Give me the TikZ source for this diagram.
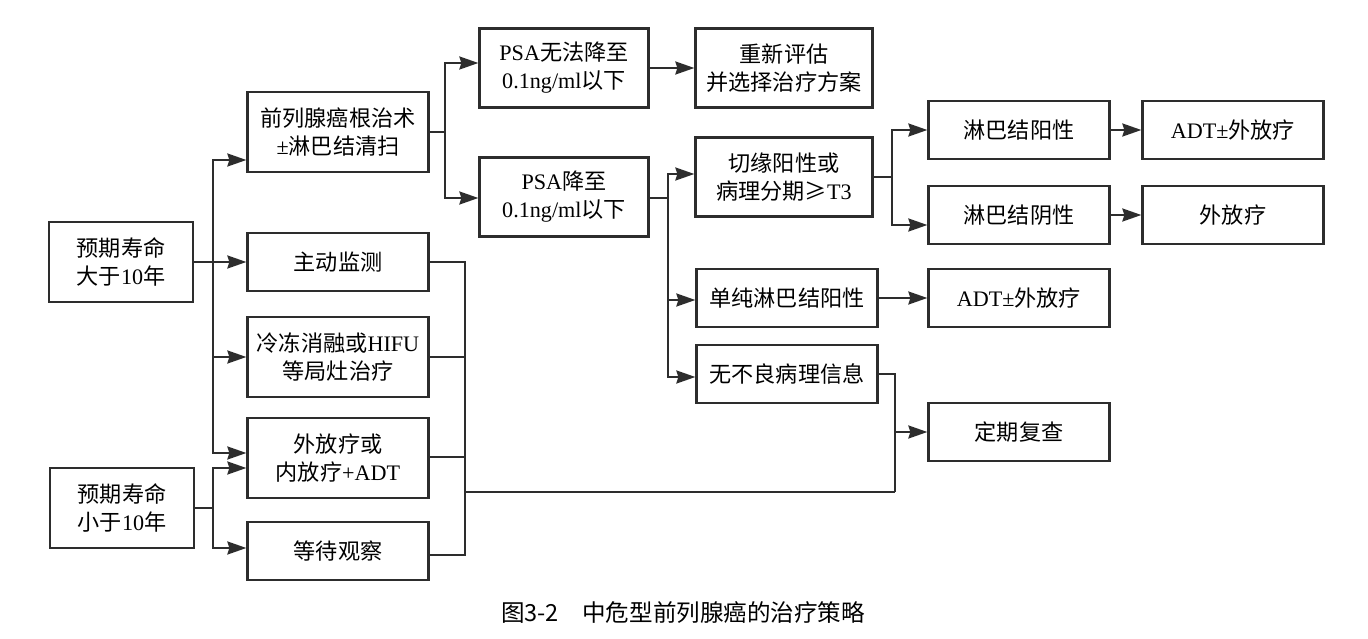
\documentclass[tikz,border=0pt]{standalone}
\usepackage{fontspec}
\setmainfont{Liberation Serif}
\newfontfamily\cjk{Noto Sans CJK SC}
\newcommand{\lat}[1]{{\rmfamily #1}}
\usetikzlibrary{arrows.meta, positioning}
\definecolor{linecol}{RGB}{45,45,45}

\begin{document}
\begin{tikzpicture}[
    x=0.2mm, y=-0.2mm,
    box/.style    = {rectangle, draw=linecol, line width=0.45mm,
                     minimum width=3.62cm, minimum height=1.15cm,
                     align=center, inner sep=2pt,
                     font=\cjk\fontsize{12.6pt}{16pt}\selectfont},
    tall/.style   = {minimum height=1.6cm},
    life/.style   = {minimum width=2.88cm, minimum height=1.6cm},
    psa/.style    = {minimum width=3.38cm, minimum height=1.58cm},
    mid/.style    = {minimum width=3.54cm, minimum height=1.58cm},
    line/.style   = {line width=0.45mm, color=linecol},
    arrow/.style  = {line, -{Stealth[length=3.8mm, width=2.6mm, inset=0.4mm]}},
]
\useasboundingbox (0,0) rectangle (1368,639);

% ── Life expectancy ─────────────────────────────────────────────
\node[box, life] (e1) at (121,262) {预期寿命\\大于\lat{10}年};
\node[box, life] (e2) at (122,508) {预期寿命\\小于\lat{10}年};

% ── Primary treatment ───────────────────────────────────────────
\node[box, tall] (rp)   at (338,132) {前列腺癌根治术\\\lat{±}淋巴结清扫};
\node[box]       (as)   at (338,262) {主动监测};
\node[box, tall] (cryo) at (338,357) {冷冻消融或\lat{HIFU}\\等局灶治疗};
\node[box, tall] (rt)   at (338,458) {外放疗或\\内放疗\lat{+ADT}};
\node[box]       (ww)   at (338,551) {等待观察};

% ── PSA after surgery ───────────────────────────────────────────
\node[box, psa] (pn) at (564,68)  {\lat{PSA}无法降至\\\lat{0.1ng/ml}以下};
\node[box, psa] (py) at (564,197) {\lat{PSA}降至\\\lat{0.1ng/ml}以下};
\node[box, mid] (re) at (784,68)  {重新评估\\并选择治疗方案};
\node[box, mid] (sm) at (784,177) {切缘阳性或\\病理分期≥\lat{T3}};

% ── Pathology ───────────────────────────────────────────────────
\node[box] (lno) at (787,298) {单纯淋巴结阳性};
\node[box] (nap) at (787,374) {无不良病理信息};
\node[box] (lnp) at (1019,130) {淋巴结阳性};
\node[box] (lnn) at (1019,215) {淋巴结阴性};
\node[box] (adt2) at (1019,298) {\lat{ADT±}外放疗};
\node[box] (fu)   at (1019,432) {定期复查};
\node[box] (adt1) at (1233,130) {\lat{ADT±}外放疗};
\node[box] (ebrt) at (1233,215) {外放疗};

% ── Bus coordinates ─────────────────────────────────────────────
\coordinate (b1) at (213,262);
\coordinate (b2) at (213,508);
\coordinate (b3) at (445,132);
\coordinate (b4) at (668,198);
\coordinate (b5) at (892,177);
\coordinate (b6) at (465,492);
\coordinate (b7) at (895,492);

% ── Connectors: life expectancy ─────────────────────────────────
\draw[line] (e1.east) -- (b1);
\draw[arrow] (b1) |- ([yshift=-5.6mm]rp.west);
\draw[arrow] (b1) -- (as.west);
\draw[arrow] (b1) |- (cryo.west);
\draw[arrow] (b1) |- ([yshift=1mm]rt.west);
\draw[line] (e2.east) -- (b2);
\draw[arrow] (b2) |- ([yshift=-2mm]rt.west);
\draw[arrow] (b2) |- ([yshift=0.6mm]ww.west);

% ── Connectors: surgery branch ──────────────────────────────────
\draw[line] (rp.east) -- (b3);
\draw[arrow] (b3) |- ([yshift=1mm]pn.west);
\draw[arrow] (b3) |- ([yshift=-0.2mm]py.west);
\draw[arrow] (pn) -- (re);
\draw[line] ([yshift=-0.2mm]py.east) -- (b4);
\draw[arrow] (b4) |- ([yshift=0.6mm]sm.west);
\draw[arrow] (b4) |- ([yshift=-0.4mm]lno.west);
\draw[arrow] (b4) |- ([yshift=-0.6mm]nap.west);
\draw[line] (sm.east) -- (b5);
\draw[arrow] (b5) |- (lnp.west);
\draw[arrow] (b5) |- ([yshift=-2mm]lnn.west);
\draw[arrow] (lnp) -- (adt1);
\draw[arrow] (lnn) -- (ebrt);
\draw[arrow] (lno) -- (adt2);
\draw[line] (nap.east) -| (b7);

% ── Connectors: merge to follow-up ──────────────────────────────
\draw[line] (as.east) -| (b6);
\draw[line] (cryo.east) -| (b6);
\draw[line] ([yshift=0.2mm]rt.east) -| (b6);
\draw[line] ([yshift=-0.8mm]ww.east) -| (b6);
\draw[line] (b6) -- (b7);
\draw[arrow] (b7) |- (fu.west);

% ── Caption ─────────────────────────────────────────────────────
\node[font=\cjk\fontsize{13.4pt}{16pt}\selectfont] (cap) at (683,613)
    {图3-2\quad 中危型前列腺癌的治疗策略};

\end{tikzpicture}
\end{document}
